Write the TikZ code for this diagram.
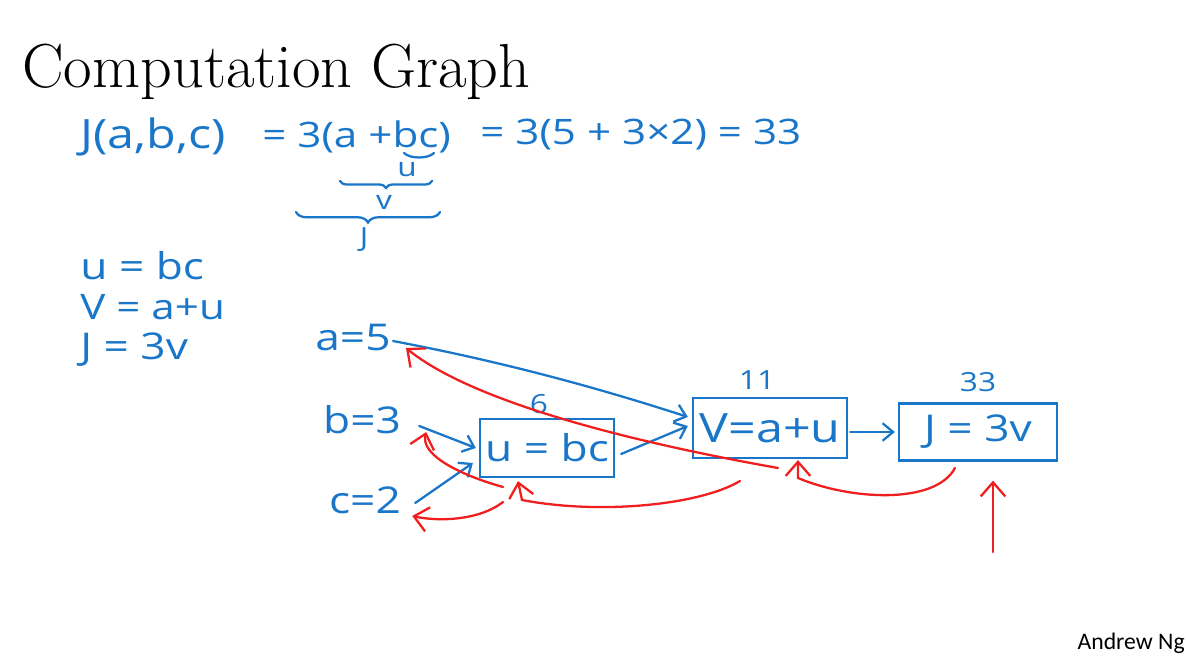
\documentclass[tikz,border=0pt]{standalone}
\usepackage{fontspec}
\usetikzlibrary{arrows.meta,calc,decorations.pathreplacing}
\newfontfamily\handfont[FakeStretch=1.2]{Open Sans}
\newfontfamily\slidefont{Carlito}
\definecolor{penblue}{RGB}{25,118,200}
\definecolor{penred}{RGB}{240,30,30}
\begin{document}
\begin{tikzpicture}[x=0.02cm,y=-0.02cm,
  hand/.style={text=penblue,font=\handfont\fontsize{21}{24}\selectfont,inner sep=0pt},
  handmid/.style={hand,font=\handfont\fontsize{20}{24}\selectfont},
  handsmall/.style={hand,font=\handfont\fontsize{15}{18}\selectfont},
  opbox/.style={draw=penblue,line width=1.3pt,inner sep=0pt,text=penblue,
    font=\handfont\fontsize{21}{24}\selectfont},
  penline/.style={draw=penblue,line width=1.3pt,line cap=round},
  barrow/.style={penline,-{Straight Barb[length=6pt,width=10pt]}},
  rarrow/.style={draw=penred,line width=1.3pt,line cap=round,-{Straight Barb[length=8pt,width=14pt]}},
  bracedown/.style={penline,decorate,decoration={brace,mirror,amplitude=#1}}
]
\path[use as bounding box] (0,0) rectangle (1187,661);

% title and footer
\node[anchor=base west,inner sep=0pt,font=\fontsize{35.4}{42}\selectfont] (title) at (22,88) {Computation Graph};
\node[anchor=base east,inner sep=0pt,font=\slidefont\fontsize{13.5}{16}\selectfont] (author) at (1185,650) {Andrew Ng};

% first line
\node[hand,anchor=west,font=\handfont\fontsize{23}{26}\selectfont] (eqJ) at (80,137) {J(a,b,c)};
\node[handmid,anchor=west] (eqA) at (262,137) {= 3(a +bc)};
\node[handmid,anchor=west] (eqB) at (480,135) {= 3(5 + 3×2) = 33};

% braces
\coordinate (bcL) at (404,153);
\coordinate (bcR) at (434,153);
\draw[penline] (bcL) .. controls (410,159) and (428,159) .. (bcR);
\node[handsmall] (bu) at (407,170) {u};
\draw[bracedown=4pt] (340,181) -- (432,181);
\node[handsmall] (bv) at (384,202) {v};
\draw[bracedown=6pt] (296,212) -- (440,212);
\node[handsmall] (bJ) at (364,240) {J};

% definitions
\node[hand,anchor=west] (du) at (80,266) {u = bc};
\node[handmid,anchor=west] (dv) at (80,307) {V = a+u};
\node[hand,anchor=west] (dJ) at (80,350) {J = 3v};

% inputs
\node[hand] (a) at (353,338) {a=5};
\node[hand] (b) at (362,420) {b=3};
\node[hand] (c) at (365,500) {c=2};

% boxes
\node[opbox,minimum width=2.68cm,minimum height=1.16cm] (u) at (547,448) {u = bc};
\node[opbox,minimum width=3.08cm,minimum height=1.2cm,font=\handfont\fontsize{23}{26}\selectfont] (V) at (770,428) {V=a+u};
\node[opbox,minimum width=3.16cm,minimum height=1.14cm] (J) at (978,432) {J = 3v};

% values
\node[handsmall] (val6) at (539,404) {6};
\node[handsmall] (val11) at (757,380) {11};
\node[handsmall] (val33) at (978,382) {33};

% forward (blue)
\draw[barrow] ($(a.east)+(2,3)$) .. controls (520,365) and (620,395) .. ($(V.west)+(-4,-11)$);
\draw[barrow] ($(b.east)+(18,6)$) -- ($(u.west)+(-3,0)$);
\draw[barrow] ($(c.east)+(14,3)$) -- ($(u.west)+(-6,15)$);
\draw[barrow] ($(u.east)+(6,6)$) -- ($(V.west)+(-4,-2)$);
\draw[barrow] ($(V.east)+(2,4)$) -- ($(J.west)+(-3,0)$);

% backward (red)
\coordinate (rA) at (778,468);
\draw[rarrow] (rA) .. controls (620,440) and (470,400) .. ($(a.east)+(15,10)$);
\coordinate (rJ) at (955,468);
\draw[rarrow] (rJ) .. controls (935,505) and (850,500) .. (798,478) -- ($(V.south)+(28,1)$);
\coordinate (rV) at (740,481);
\draw[rarrow] (rV) .. controls (700,505) and (600,515) .. (522,500) -- ($(u.south)+(-29,3)$);
\coordinate (rU1) at (503,487);
\draw[rarrow] (rU1) .. controls (460,475) and (420,455) .. ($(b.east)+(25,12)$);
\coordinate (rU2) at (503,502);
\draw[rarrow] (rU2) .. controls (480,520) and (440,522) .. ($(c.east)+(11,16)$);
\coordinate (rOut) at (993,552);
\draw[rarrow] (rOut) -- ($(J.south)+(15,19)$);
\end{tikzpicture}
\end{document}
